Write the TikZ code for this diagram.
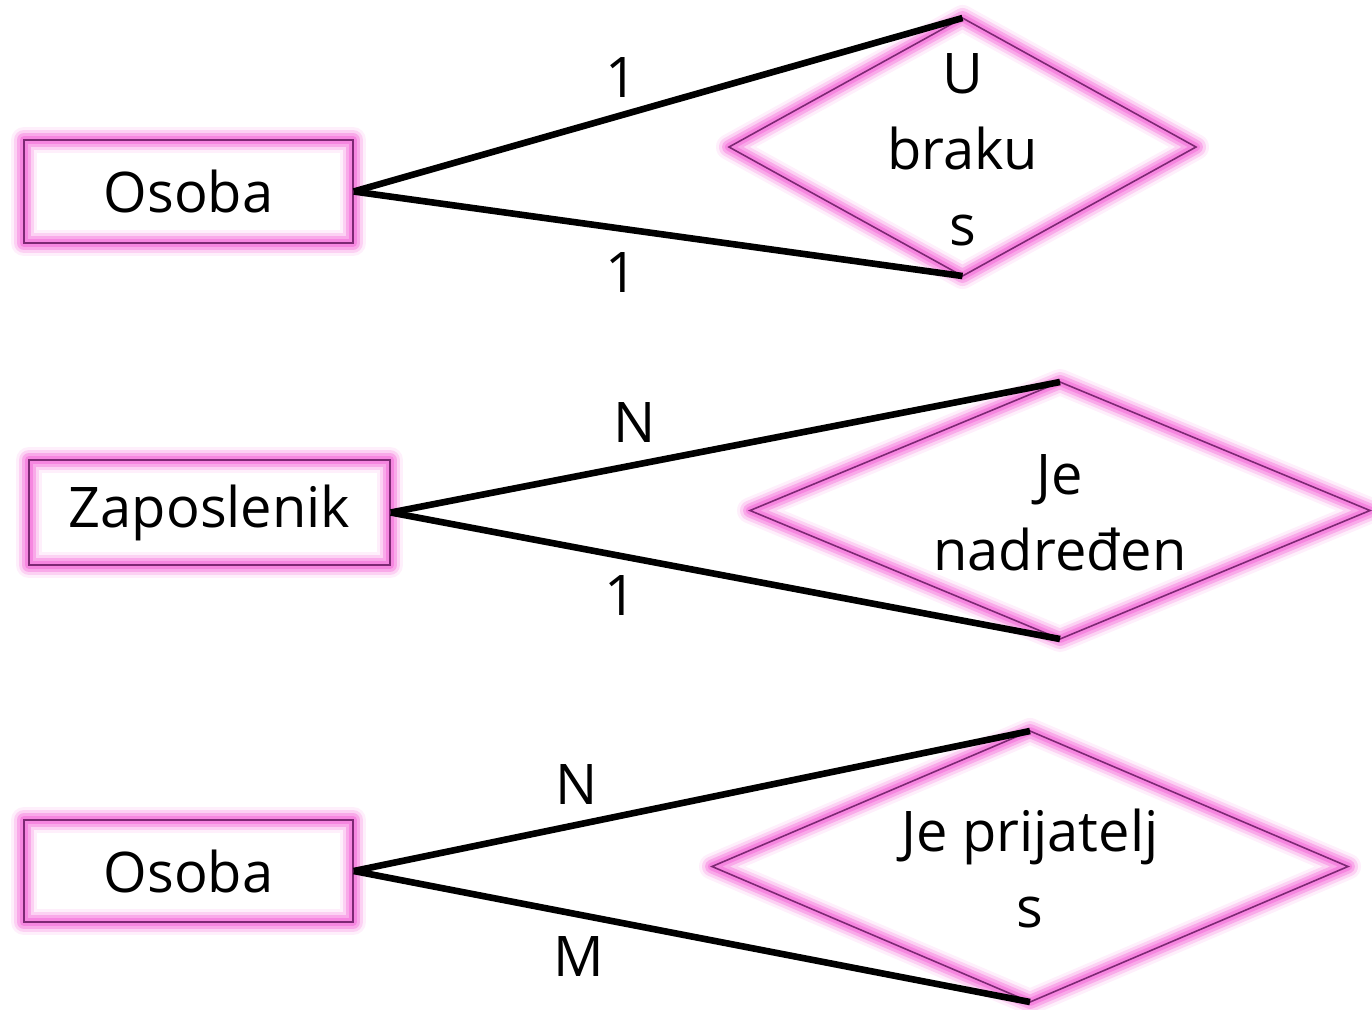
\documentclass[tikz,border=0pt]{standalone}
\usepackage{fontspec}
\setmainfont{Open Sans}
\usetikzlibrary{shapes.geometric}
\definecolor{glowpink}{RGB}{245,120,220}
\definecolor{rimpurple}{RGB}{125,40,115}
\tikzset{
  glow/.style={preaction={draw=glowpink, line width=13pt, line join=round, opacity=0.12},
               preaction={draw=glowpink, line width=10pt, line join=round, opacity=0.25},
               preaction={draw=glowpink, line width=7pt, line join=round, opacity=0.45},
               preaction={draw=glowpink, line width=4pt, line join=round, opacity=0.7}},
  entity/.style={rectangle, draw=rimpurple, line width=0.8pt, glow},
  relation/.style={diamond, draw=rimpurple, line width=0.8pt, glow, inner sep=0pt, outer sep=0pt},
  link/.style={line width=3.3pt},
  every node/.style={font=\fontsize{28}{38}\selectfont}
}
\begin{document}
\begin{tikzpicture}[x=0.5pt, y=-0.5pt]
  \useasboundingbox (0,0) rectangle (1372,1009);
  % entities
  \node [entity, minimum width=164.5pt, minimum height=51.5pt] (osoba1) at (188.5,191.5) {Osoba};
  \node [entity, minimum width=180.5pt, minimum height=52.5pt] (zap) at (209.5,512.5) {Zaposlenik};
  \node [entity, minimum width=164.5pt, minimum height=51pt] (osoba2) at (188.5,871) {Osoba};

  % relations
  \node [relation, minimum width=233.5pt, minimum height=129pt] (brak) at (962.5,147) {};
  \node [align=center] (braktxt) at ([yshift=-1.5pt]brak.center) {U\\braku\\s};
  \node [relation, minimum width=310pt, minimum height=128.5pt] (nadr) at (1060,510.5) {};
  \node [align=center] (nadrtxt) at ([yshift=-1pt]nadr.center) {Je\\nadređen};
  \node [relation, minimum width=318pt, minimum height=135.5pt] (prij) at (1030,866.5) {};
  \node [align=center] (prijtxt) at ([yshift=-1pt]prij.center) {Je prijatelj\\s};

  \draw [link] (osoba1.east) -- node[pos=0.44, above=4pt] (c1) {1} (brak.north);
  \draw [link] (osoba1.east) -- node[pos=0.44, below=7pt] (c2) {1} (brak.south);
  \draw [link] (zap.east) -- node[pos=0.365, above=6pt] (c3) {N} (nadr.north);
  \draw [link] (zap.east) -- node[pos=0.343, below=5pt] (c4) {1} (nadr.south);
  \draw [link] (osoba2.east) -- node[pos=0.33, above=5pt] (c5) {N} (prij.north);
  \draw [link] (osoba2.east) -- node[pos=0.333, below=6pt] (c6) {M} (prij.south);
\end{tikzpicture}
\end{document}
